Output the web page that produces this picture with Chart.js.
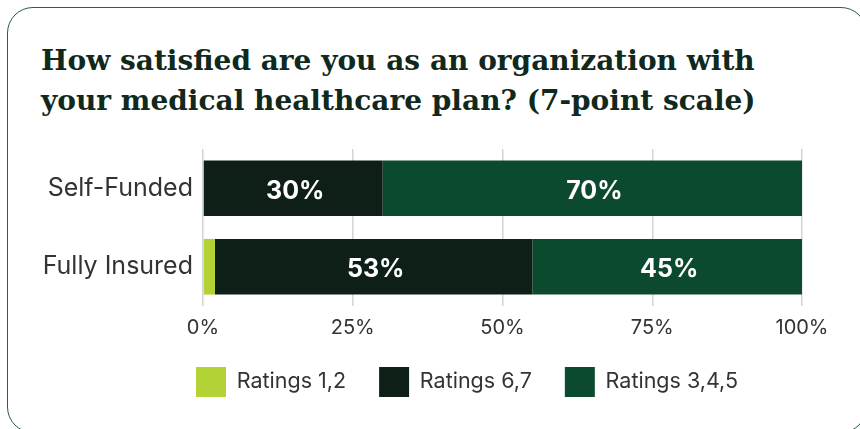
<!DOCTYPE html>
<html>
<head>
<meta charset="utf-8">
<script src="https://cdn.jsdelivr.net/npm/chart.js@4.4.1/dist/chart.umd.min.js"></script>
<style>
  html, body { margin: 0; padding: 0; background: #fff; }
  #wrap { position: relative; width: 860px; height: 429px; overflow: hidden; }
  .card {
    position: absolute; left: 7px; top: 7px; width: 860px; height: 426px;
    border: 1.5px solid #2b5e44; border-radius: 26px; box-sizing: border-box;
  }
  h1 {
    position: absolute; left: 41px; top: 41px; margin: 0;
    font-family: "DejaVu Serif", serif; font-weight: bold;
    font-size: 28px; line-height: 40px; color: #10291c; white-space: nowrap;
  }
  #chart { position: absolute; left: 0; top: 0; }
</style>
</head>
<body>
<div id="wrap">
  <div class="card"></div>
  <h1>How satisfied are you as an organization with<br>your medical healthcare plan? (7-point scale)</h1>
  <canvas id="chart" width="860" height="429"></canvas>
</div>
<script>
// 資料
const categories = ['Self-Funded', 'Fully Insured'];
const ratings12 = [0, 2];
const ratings67 = [30, 53];
const ratings345 = [70, 45];
const xTicks = [0, 25, 50, 75, 100];

const colors = {
  r12: '#b3d235',
  r67: '#0e1f17',
  r345: '#0c4a2f'
};

const sans = 'Inter, "Liberation Sans", sans-serif';

// 在柱內畫百分比
const segmentLabels = {
  id: 'segmentLabels',
  afterDatasetsDraw(chart) {
    const ctx = chart.ctx;
    ctx.save();
    ctx.font = 'bold 25px ' + sans;
    ctx.fillStyle = '#fff';
    ctx.textAlign = 'center';
    ctx.textBaseline = 'middle';
    chart.data.datasets.forEach((ds, i) => {
      chart.getDatasetMeta(i).data.forEach((bar, j) => {
        const v = ds.data[j];
        if (v < 5) return;
        const cx = (bar.x + bar.base) / 2;
        ctx.fillText(v + '%', cx + 2, bar.y + 3);
      });
    });
    ctx.restore();
  }
};

// 圖例往右移 (原圖圖例不在畫布正中)
const legendShift = {
  id: 'legendShift',
  beforeDraw(chart) {
    const lg = chart.legend;
    if (lg) {
      lg.left = 132;
      lg.right = 802;
    }
  }
};

function initChart() {
  const ctx = document.getElementById('chart');
  new Chart(ctx, {
    type: 'bar',
    data: {
      labels: categories,
      datasets: [
        { label: 'Ratings 1,2', data: ratings12, backgroundColor: colors.r12 },
        { label: 'Ratings 6,7', data: ratings67, backgroundColor: colors.r67 },
        { label: 'Ratings 3,4,5', data: ratings345, backgroundColor: colors.r345 }
      ]
    },
    options: {
      responsive: false,
      animation: false,
      indexAxis: 'y',
      datasets: { bar: { categoryPercentage: 0.71, barPercentage: 1.0 } },
      layout: { padding: { top: 149, left: 40, right: 58, bottom: 22 } },
      scales: {
        x: {
          stacked: true,
          min: 0,
          max: 100,
          afterBuildTicks(axis) { axis.ticks = xTicks.map(v => ({ value: v })); },
          afterFit(axis) { axis.height = 28; },
          grid: { color: '#d4d4d4', lineWidth: 1.5, drawTicks: false },
          border: { display: false },
          ticks: {
            callback: v => v + '%',
            color: '#333',
            font: { family: sans, size: 20 },
            padding: 10
          }
        },
        y: {
          stacked: true,
          afterFit(axis) { axis.width = 163; },
          grid: { display: false, drawTicks: false },
          border: { display: false },
          ticks: {
            color: '#333',
            font: { family: sans, size: 25 },
            padding: 10
          }
        }
      },
      plugins: {
        legend: {
          position: 'bottom',
          labels: {
            boxWidth: 30,
            boxHeight: 30,
            padding: 33,
            color: '#333',
            font: { family: sans, size: 21.5 }
          }
        },
        tooltip: { enabled: false }
      }
    },
    plugins: [segmentLabels, legendShift]
  });
}

document.addEventListener('DOMContentLoaded', initChart);
</script>
</body>
</html>
